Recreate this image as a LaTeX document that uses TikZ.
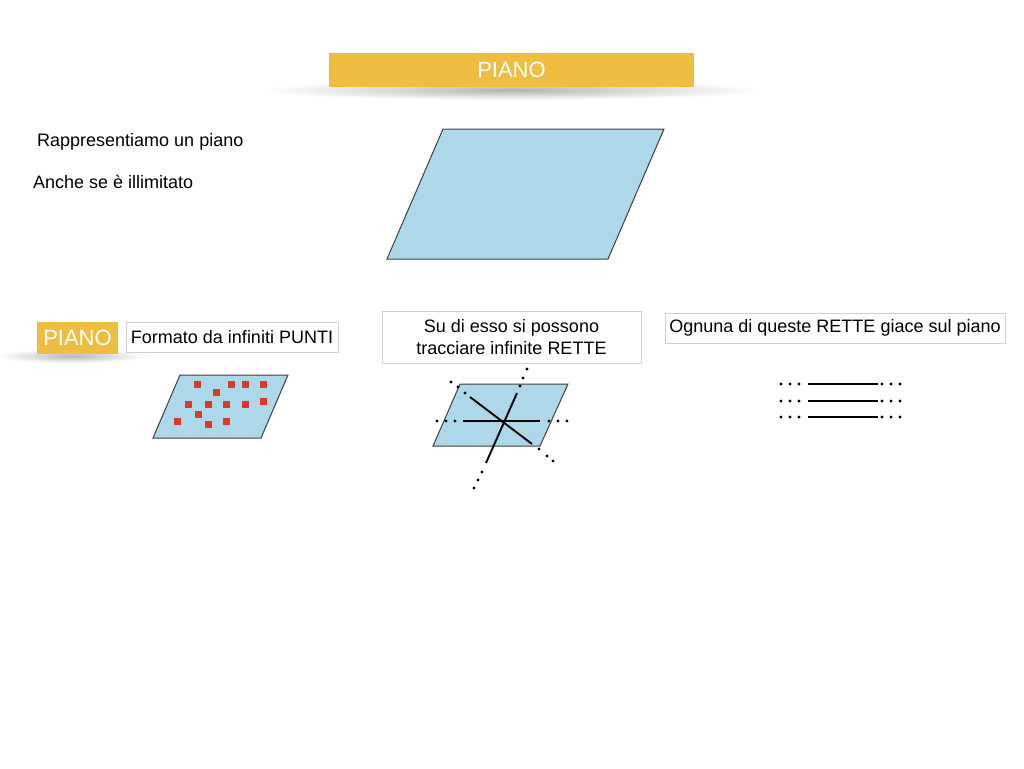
\documentclass[tikz,border=0pt]{standalone}
\usepackage{fontspec}
\setmainfont{Liberation Sans}
\usetikzlibrary{positioning}
\definecolor{titleyellow}{RGB}{239,190,65}
\definecolor{planeblue}{RGB}{172,216,233}
\definecolor{pointred}{RGB}{221,56,42}
\definecolor{framegray}{RGB}{208,208,208}

\begin{document}
\begin{tikzpicture}[x=1pt, y=-1pt,
  txt/.style={font=\fontsize{18}{21}\selectfont, inner sep=0pt, anchor=west},
  tag/.style={fill=titleyellow, text=white, font=\fontsize{22}{26}\selectfont, inner sep=0pt},
  frame/.style={draw=framegray, fill=white, align=center, inner sep=0pt,
                font=\fontsize{18}{22}\selectfont},
  plane/.style={draw=black!75, fill=planeblue, line width=1pt},
  pt/.style={fill=pointred, minimum size=7pt, inner sep=0pt},
  line/.style={line width=1.9pt},
  dot/.style={fill=black, circle, inner sep=0pt, minimum size=3.1pt}
]
\useasboundingbox[fill=white] (0,0) rectangle (1024,768);
% shadows
\shade[inner color=black!30, outer color=white] (511.5,90) ellipse [x radius=250, y radius=10];
\shade[inner color=black!28, outer color=white] (72,356) ellipse [x radius=75, y radius=7];
% title
\node[tag, minimum width=365pt, minimum height=34pt] (title) at (511.5,70) {PIANO};
\node[txt] (rapp) at (37,142) {Rappresentiamo un piano};
\node[txt] (anche) at (33,182) {Anche se è illimitato};
\draw[plane] (443,129) coordinate (a1) -- (664,129) coordinate (a2)
  -- (608,259) coordinate (a3) -- (387,259) coordinate (a4) -- cycle;
% second row
\node[tag, minimum width=81pt, minimum height=32pt] (piano) at (77.5,338) {PIANO};
\node[frame, minimum width=212pt, minimum height=30pt] (punti) at (232,337) {Formato da infiniti PUNTI};
\node[frame, minimum width=259pt, minimum height=52pt] (rette) at (511.5,337)
  {Su di esso si possono\\tracciare infinite RETTE};
\node[frame, minimum width=340pt, minimum height=30pt] (giace) at (835,328)
  {Ognuna di queste RETTE giace sul piano};
% points
\draw[plane] (180,375) -- (288,375) -- (261,438) -- (153,438) -- cycle;
\foreach \x/\y [count=\i] in {197/384, 231/384, 245/384, 263/384, 216/392, 188/404, 208/404,
  226/404, 245/404, 263/401, 198/414, 177/421, 208/424, 226/421}
  \node[pt] (pt\i) at (\x,\y) {};
% lines through one point
\draw[plane] (460,384) -- (568,384) -- (540,446) -- (433,446) -- cycle;
\coordinate (o) at (504,421);
\draw[line] (463,421) -- (540,421);
\draw[line] (470,397) -- (532,444);
\draw[line] (517,393) -- (486,463);
\foreach \x/\y in {437/421, 446/421, 455/421, 549/421, 558/421, 567/421,
  451/382, 458/387, 465/393, 539/449, 547/456, 553/461,
  527/369, 523/378, 520/386, 482/472, 478/480, 474/488}
  \node[dot] at (\x,\y) {};
% parallel lines
\foreach \y in {384, 401, 417} {
  \draw[line] (808,\y) -- (878,\y);
  \foreach \x in {781, 790, 799, 882, 891, 900}
    \node[dot] at (\x,\y) {};
}
\end{tikzpicture}
\end{document}
